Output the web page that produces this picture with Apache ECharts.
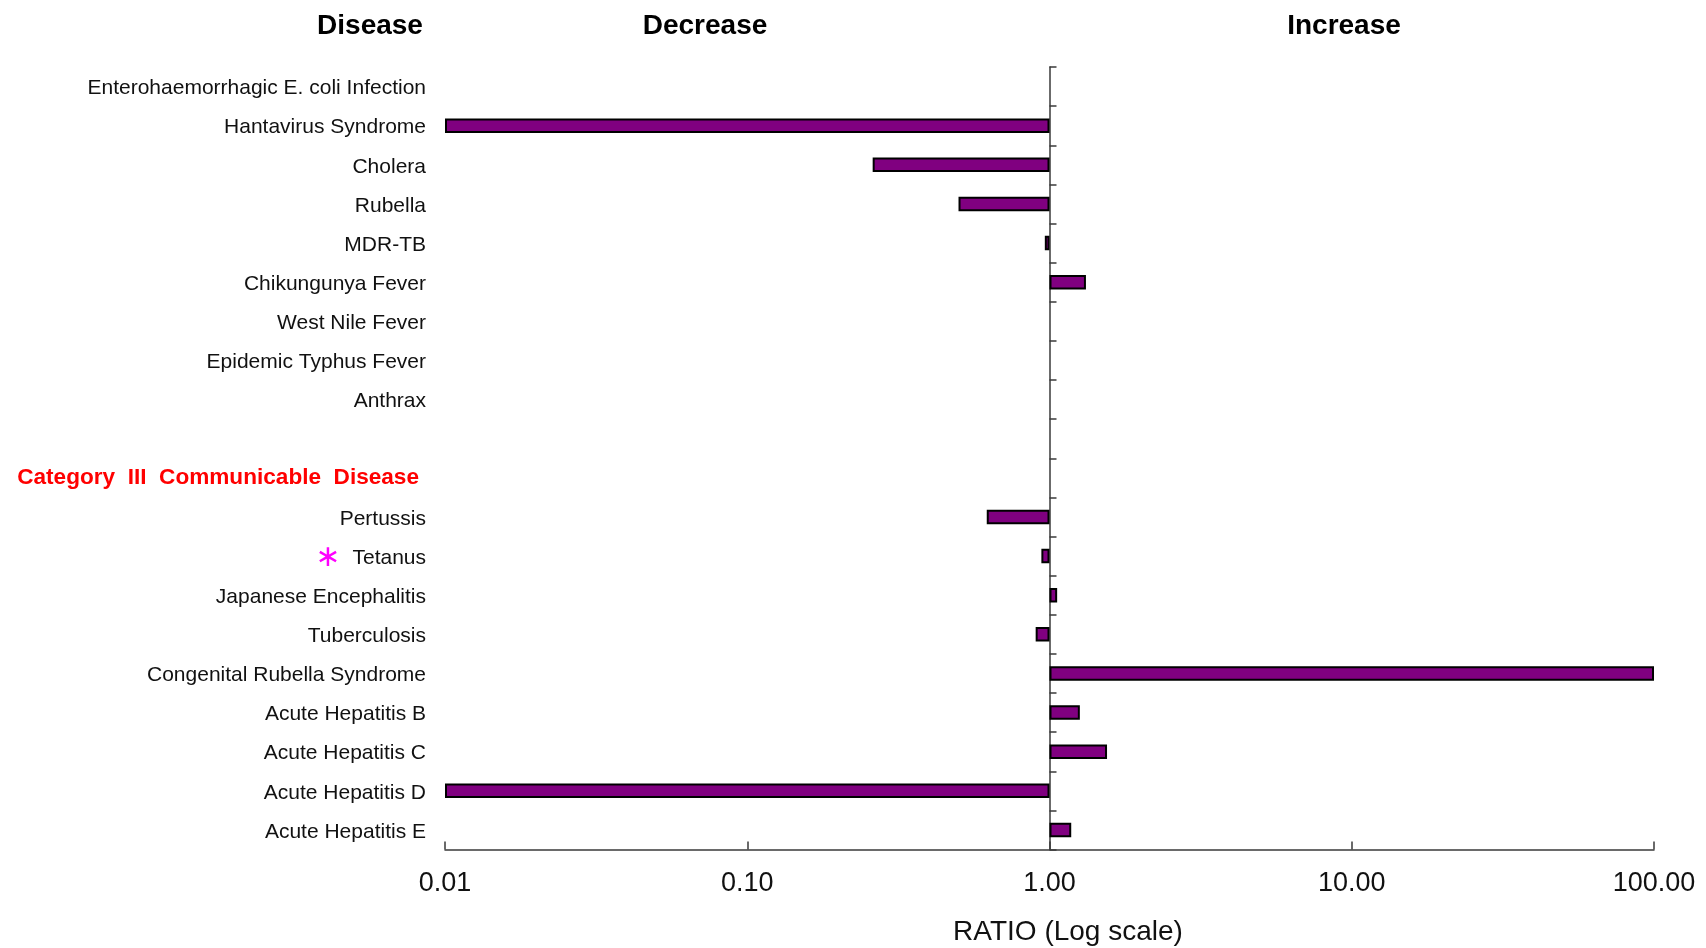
<!DOCTYPE html>
<html><head><meta charset="utf-8">
<script src="https://cdn.jsdelivr.net/npm/echarts@6/dist/echarts.min.js"></script>
<style>html,body{margin:0;padding:0;background:#fff}#c{width:1706px;height:948px}</style>
</head><body><div id="c"></div>
<script>
// ---- data ----
const categories = [
  'Enterohaemorrhagic E. coli Infection', 'Hantavirus Syndrome', 'Cholera', 'Rubella', 'MDR-TB',
  'Chikungunya Fever', 'West Nile Fever', 'Epidemic Typhus Fever', 'Anthrax', '',
  'Category III Communicable Disease', 'Pertussis', 'Tetanus', 'Japanese Encephalitis', 'Tuberculosis',
  'Congenital Rubella Syndrome', 'Acute Hepatitis B', 'Acute Hepatitis C', 'Acute Hepatitis D', 'Acute Hepatitis E'
];
const ratios = [
  null, 0.01, 0.26, 0.50, 0.965,
  1.32, null, null, null, null,
  null, 0.62, 0.94, 1.06, 0.90,
  100, 1.26, 1.55, 0.01, 1.18
];
const groupHeader = 'Category III Communicable Disease';
const markedCategory = 'Tetanus';
const xMin = 0.01, xMax = 100;
const headerDisease = 'Disease';
const headerDecrease = 'Decrease';
const headerIncrease = 'Increase';
const xAxisTitle = 'RATIO (Log scale)';

// ---- chart ----
const FONT = '"Liberation Sans", Arial, sans-serif';
const chart = echarts.init(document.getElementById('c'), null, {renderer: 'canvas'});
const gridLeft = 445;

const option = {
  animation: false,
  backgroundColor: '#fff',
  textStyle: {fontFamily: FONT},
  grid: {left: gridLeft, right: 52, top: 67, bottom: 98.5, containLabel: false},
  xAxis: {
    type: 'log', logBase: 10, min: xMin, max: xMax,
    axisLine: {show: true, lineStyle: {color: '#3a3a3a', width: 1.5}},
    axisTick: {show: true, inside: true, length: 8, lineStyle: {color: '#3a3a3a', width: 1.5}},
    minorTick: {show: false},
    splitLine: {show: false},
    axisLabel: {
      fontSize: 27, color: '#111', margin: 21, fontFamily: FONT,
      formatter: v => Number(v).toFixed(2)
    }
  },
  yAxis: [
    {
      type: 'category', inverse: true, data: categories,
      axisLine: {show: false}, axisTick: {show: false}, splitLine: {show: false},
      axisLabel: {
        fontSize: 21, color: '#111', margin: 19, fontFamily: FONT, padding: [4, 0, 0, 0],
        formatter: v => {
          if (v === groupHeader) return '{hdr|' + v.split(' ').join('  ') + '}';
          if (v === markedCategory) return '{star|\u2217}{gap|}' + v;
          return v;
        },
        rich: {
          hdr: {fontSize: 22.6, fontWeight: 'bold', color: '#FF0000', fontFamily: FONT, padding: [0, 7, 4, 0]},
          star: {fontSize: 30, color: '#FF00FF', fontFamily: '"DejaVu Sans"'},
          gap: {width: 12}
        }
      }
    },
    {
      type: 'category', inverse: true, data: categories, position: 'left', offset: 0,
      axisLine: {show: true, lineStyle: {color: '#3a3a3a', width: 1.5}},
      axisTick: {show: true, inside: true, length: 7, lineStyle: {color: '#3a3a3a', width: 1.5}},
      axisLabel: {show: false}, splitLine: {show: false}
    }
  ],
  series: [{
    type: 'bar', yAxisIndex: 0, barWidth: 14.5,
    data: ratios.map(v => v == null ? '-' : v),
    itemStyle: {color: '#800080', borderColor: '#000', borderWidth: 2}
  }],
  graphic: [
    {type: 'text', x: 370, y: 26, style: {text: headerDisease, font: 'bold 28px ' + FONT, fill: '#000', align: 'center', verticalAlign: 'middle'}},
    {type: 'text', x: 705, y: 26, style: {text: headerDecrease, font: 'bold 28px ' + FONT, fill: '#000', align: 'center', verticalAlign: 'middle'}},
    {type: 'text', x: 1344, y: 26, style: {text: headerIncrease, font: 'bold 28px ' + FONT, fill: '#000', align: 'center', verticalAlign: 'middle'}},
    {type: 'text', x: 1068, y: 932, style: {text: xAxisTitle, font: '28px ' + FONT, fill: '#111', align: 'center', verticalAlign: 'middle'}}
  ]
};
chart.setOption(option);
// place the vertical axis line at ratio = 1 using the library's own scale
const xAtOne = chart.convertToPixel({xAxisIndex: 0}, 1);
chart.setOption({yAxis: [{}, {offset: gridLeft - xAtOne}]});
</script></body></html>
